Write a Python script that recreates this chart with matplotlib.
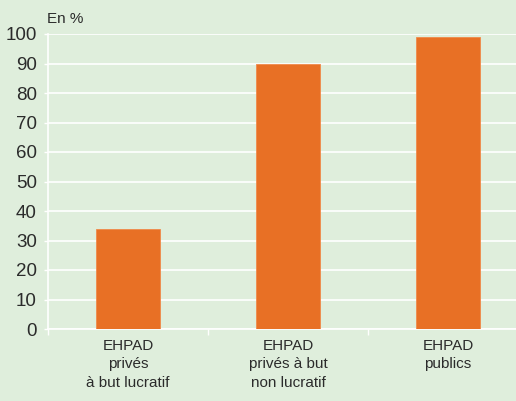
import matplotlib
matplotlib.use("Agg")
import matplotlib.pyplot as plt
import numpy as np

categories = ["EHPAD\nprivés\nà but lucratif", "EHPAD\nprivés à but\nnon lucratif", "EHPAD\npublics"]
values = [34, 90, 99]
yticks = [0, 10, 20, 30, 40, 50, 60, 70, 80, 90, 100]

bg = "#dfeedc"
bar_color = "#e87025"
text_color = "#2b2b2b"

plt.rcParams["font.family"] = ["Liberation Sans", "DejaVu Sans"]

fig = plt.figure(figsize=(5.16, 4.01), dpi=100, facecolor=bg)
ax = fig.add_axes([48 / 516, 72 / 401, 480 / 516, 295 / 401], facecolor=bg)

x = np.arange(len(categories))
ax.bar(x, values, width=0.4, color=bar_color, edgecolor="#f08a4a", linewidth=0.6, zorder=3)

ax.set_xlim(-0.5, len(categories) - 0.5)
ax.set_ylim(0, 100)
ax.set_yticks(yticks)
ax.set_yticklabels([str(v) for v in yticks], fontsize=13.5, color=text_color)
ax.yaxis.grid(True, color="white", linewidth=1.2, zorder=0)
ax.set_axisbelow(True)

ax.set_xticks(x)
ax.set_xticklabels(categories, fontsize=11, color=text_color, linespacing=1.4)
ax.set_xticks(np.arange(-0.5, len(categories), 1), minor=True)
ax.tick_params(axis="x", which="major", length=0, pad=7)
ax.tick_params(axis="x", which="minor", length=4, color="white", width=1)
ax.tick_params(axis="y", length=3, color="white", width=1, pad=5)

for side in ["top", "right"]:
    ax.spines[side].set_visible(False)
for side in ["left", "bottom"]:
    ax.spines[side].set_color("white")
    ax.spines[side].set_linewidth(1.2)

fig.text(47 / 516, 1 - 19 / 401, "En %", fontsize=11, color=text_color, va="center", ha="left")

fig.savefig("out.png", dpi=100, facecolor=bg)
